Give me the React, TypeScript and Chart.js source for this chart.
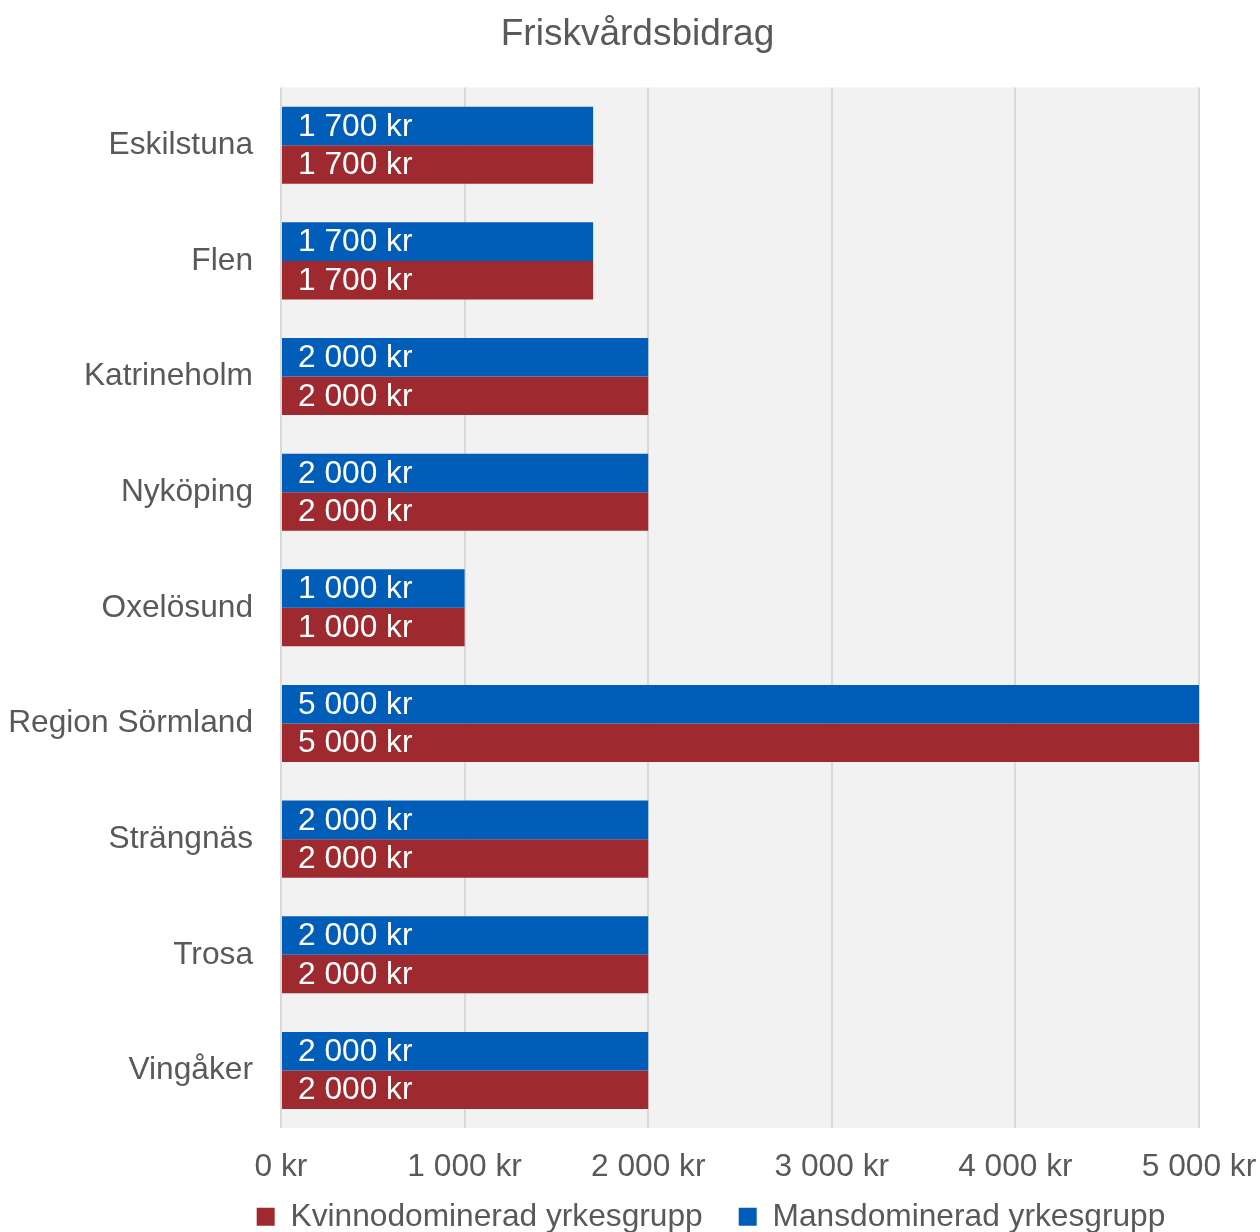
import React, { useEffect, useRef } from "react";
import { Chart, registerables } from "chart.js";

Chart.register(...registerables);

const categories = [
  "Eskilstuna",
  "Flen",
  "Katrineholm",
  "Nyköping",
  "Oxelösund",
  "Region Sörmland",
  "Strängnäs",
  "Trosa",
  "Vingåker",
];
const mansValues = [1700, 1700, 2000, 2000, 1000, 5000, 2000, 2000, 2000];
const kvinnoValues = [1700, 1700, 2000, 2000, 1000, 5000, 2000, 2000, 2000];
const xTicks = [0, 1000, 2000, 3000, 4000, 5000];

const TITLE = "Friskvårdsbidrag";
const MANS_LABEL = "Mansdominerad yrkesgrupp";
const KVINNO_LABEL = "Kvinnodominerad yrkesgrupp";

const BLUE = "#005EB8";
const RED = "#9E2A2F";
const TEXT = "#595959";
const FONT = "'Liberation Sans', Arial, sans-serif";
const FS = 31.7;

const fmt = (v: number) =>
  String(v).replace(/\B(?=(\d{3})+(?!\d))/g, " ") + " kr";

const bgPlugin = {
  id: "plotBg",
  beforeDraw(chart: any) {
    const { ctx, chartArea } = chart;
    ctx.save();
    ctx.fillStyle = "#F2F2F2";
    ctx.fillRect(
      chartArea.left,
      chartArea.top,
      chartArea.right - chartArea.left + 1,
      chartArea.bottom - chartArea.top
    );
    ctx.restore();
  },
};

const labelPlugin = {
  id: "barLabels",
  afterDatasetsDraw(chart: any) {
    const { ctx } = chart;
    ctx.save();
    ctx.fillStyle = "#FFFFFF";
    ctx.font = `${FS}px ${FONT}`;
    ctx.textAlign = "left";
    ctx.textBaseline = "middle";
    chart.data.datasets.forEach((ds: any, i: number) => {
      const meta = chart.getDatasetMeta(i);
      meta.data.forEach((bar: any, j: number) => {
        const v = ds.data[j] as number;
        ctx.fillText(fmt(v), bar.base + 16, bar.y + 1);
      });
    });
    ctx.restore();
  },
};

const placePlugin = {
  id: "placeBlocks",
  afterLayout(chart: any) {
    const t = chart.titleBlock;
    if (t) {
      t.left = 0;
      t.right = 1275;
    }
    const lg = chart.legend;
    if (lg) {
      const h = lg.bottom - lg.top;
      lg.left = 81;
      lg.right = chart.width + 81;
      lg.top = 1165;
      lg.bottom = 1165 + h;
    }
  },
};

export default function App() {
  const ref = useRef<HTMLCanvasElement | null>(null);

  useEffect(() => {
    document.body.style.margin = "0";
    if (!ref.current) return;
    const chart = new Chart(ref.current, {
      type: "bar",
      data: {
        labels: categories,
        datasets: [
          {
            label: MANS_LABEL,
            data: mansValues,
            backgroundColor: BLUE,
            borderWidth: 0,
            barPercentage: 1,
            categoryPercentage: 0.666,
          },
          {
            label: KVINNO_LABEL,
            data: kvinnoValues,
            backgroundColor: RED,
            borderWidth: 0,
            barPercentage: 1,
            categoryPercentage: 0.666,
          },
        ],
      },
      options: {
        indexAxis: "y",
        animation: false,
        responsive: true,
        maintainAspectRatio: false,
        layout: { padding: { left: 0, right: 61, top: 0, bottom: 0 } },
        scales: {
          x: {
            min: 0,
            max: 5000,
            afterBuildTicks: (s: any) => {
              s.ticks = xTicks.map((v) => ({ value: v }));
            },
            afterFit: (s: any) => {
              s.paddingLeft = 0;
              s.paddingRight = 0;
            },
            grid: {
              color: "#D9D9D9",
              lineWidth: 2,
              drawTicks: false,
            },
            border: { display: false },
            ticks: {
              color: TEXT,
              font: { family: FONT, size: FS },
              padding: 20,
              callback: (v: any) => fmt(Number(v)),
            },
          },
          y: {
            afterFit: (s: any) => {
              s.width = 281;
              s.paddingTop = 0;
              s.paddingBottom = 0;
            },
            grid: { display: false, drawTicks: false },
            border: { display: false },
            ticks: {
              color: TEXT,
              font: { family: FONT, size: FS },
              padding: 28,
            },
          },
        },
        plugins: {
          title: {
            display: true,
            text: TITLE,
            color: TEXT,
            font: { family: FONT, size: 37, weight: "normal" },
            padding: { top: 13, bottom: 30 },
          },
          legend: {
            position: "bottom",
            reverse: true,
            labels: {
              color: TEXT,
              font: { family: FONT, size: FS },
              boxWidth: 18,
              boxHeight: 18,
              padding: 36,
            },
          },
          tooltip: { enabled: false },
        },
      },
      plugins: [bgPlugin, labelPlugin, placePlugin],
    });
    return () => chart.destroy();
  }, []);

  return (
    <div
      style={{
        position: "absolute",
        left: 0,
        top: 0,
        width: 1260,
        height: 1232,
        overflow: "hidden",
        background: "#FFFFFF",
      }}
    >
      <div style={{ position: "relative", width: 1260, height: 1284 }}>
        <canvas ref={ref} />
      </div>
    </div>
  );
}
